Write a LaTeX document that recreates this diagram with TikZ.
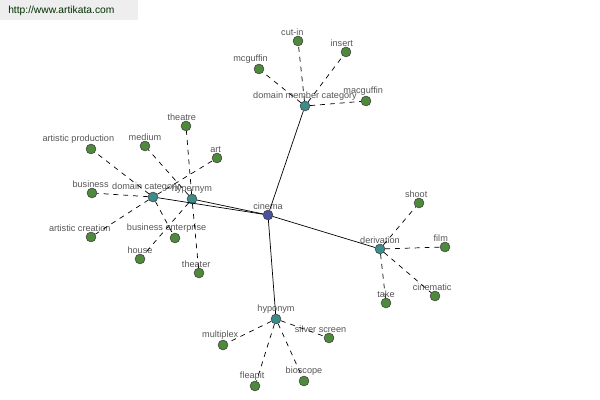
\documentclass[tikz,border=0pt]{standalone}
\usepackage{fontspec}
\setmainfont{Liberation Sans}
\usetikzlibrary{positioning}

\definecolor{colorLeaf}{HTML}{4F8A3C}
\definecolor{colorHub}{HTML}{3C8C8C}
\definecolor{colorRoot}{HTML}{4A529E}
\definecolor{colorText}{HTML}{555555}
\definecolor{colorBand}{HTML}{EEEEEE}
\def\colorLeaf{colorLeaf}
\def\colorHub{colorHub}
\def\colorRoot{colorRoot}
\def\colorText{colorText}

\tikzset{
    dot/.style={circle, draw=black!75, line width=0.4pt, minimum size=7pt, inner sep=0pt,
        label distance=1.2pt},
    leaf/.style={dot, fill=\colorLeaf},
    hub/.style={dot, fill=\colorHub},
    root/.style={dot, fill=\colorRoot},
    lbl/.style={text=\colorText, font=\fontsize{6.5pt}{7pt}\selectfont, inner sep=0pt},
    solidlink/.style={draw=black, line width=0.5pt},
    dashlink/.style={draw=black, line width=0.5pt, dash pattern=on 3.5pt off 3.5pt}
}

\begin{document}
\begin{tikzpicture}[x=0.025cm, y=-0.025cm]

    % Cadre de l'image
    \useasboundingbox (0,0) rectangle (600,400);
    \fill[colorBand] (0,0) rectangle (138,20);
    \node[anchor=west, text=black!70!green!60!black, font=\fontsize{7.3pt}{8pt}\selectfont, inner sep=0pt]
        (site) at (8,11) {http://www.artikata.com};

    % Noeud central
    \node[root, label={[lbl]above:cinema}] (cinema) at (268,215) {};

    % Noeuds intermediaires
    \node[hub, label={[lbl]above:domain member category}] (dmc) at (305,106) {};
    \node[hub, label={[lbl]above:derivation}] (deriv) at (380,249) {};
    \node[hub, label={[lbl]above:hyponym}] (hypo) at (276,319) {};
    \node[hub, label={[lbl, xshift=-5pt]above:domain category}] (dcat) at (153,197) {};
    \node[hub, label={[lbl]above:hypernym}] (hyper) at (192,199) {};

    % Feuilles : domain member category
    \node[leaf, label={[lbl, xshift=-4pt]above:cut-in}] (cutin) at (298,41) {};
    \node[leaf, label={[lbl, xshift=-6pt]above:mcguffin}] (mcguffin) at (259,69) {};
    \node[leaf, label={[lbl, xshift=-3pt]above:insert}] (insert) at (346,52) {};
    \node[leaf, label={[lbl, xshift=-2pt]above:macguffin}] (macguffin) at (366,101) {};

    % Feuilles : domain category / hypernym
    \node[leaf, label={[lbl, xshift=-3pt]above:theatre}] (theatre) at (186,126) {};
    \node[leaf, label={[lbl]above:medium}] (medium) at (145,146) {};
    \node[leaf, label={[lbl, xshift=-9pt]above:artistic production}] (artprod) at (91,149) {};
    \node[leaf, label={[lbl, xshift=-1pt]above:art}] (art) at (217,158) {};
    \node[leaf, label={[lbl, xshift=-1pt]above:business}] (business) at (92,193) {};
    \node[leaf, label={[lbl, xshift=-8pt]above:artistic creation}] (artcrea) at (91,237) {};
    \node[leaf, label={[lbl, xshift=-6pt]above:business enterprise}] (busent) at (175,238) {};
    \node[leaf, label={[lbl]above:house}] (house) at (140,259) {};
    \node[leaf, label={[lbl, xshift=-2pt]above:theater}] (theater) at (199,273) {};

    % Feuilles : derivation
    \node[leaf, label={[lbl, xshift=-2pt]above:shoot}] (shoot) at (419,203) {};
    \node[leaf, label={[lbl, xshift=-3pt]above:film}] (film) at (445,247) {};
    \node[leaf, label={[lbl]above:take}] (take) at (386,303) {};
    \node[leaf, label={[lbl, xshift=-2pt]above:cinematic}] (cinematic) at (435,296) {};

    % Feuilles : hyponym
    \node[leaf, label={[lbl, xshift=-2pt]above:multiplex}] (multiplex) at (223,345) {};
    \node[leaf, label={[lbl, xshift=-6pt]above:silver screen}] (silver) at (329,338) {};
    \node[leaf, label={[lbl, xshift=-2pt]above:fleapit}] (fleapit) at (255,386) {};
    \node[leaf, label={[lbl]above:bioscope}] (bioscope) at (304,381) {};

    % Liens pleins
    \draw[solidlink] (cinema) -- (dmc);
    \draw[solidlink] (cinema) -- (deriv);
    \draw[solidlink] (cinema) -- (hypo);
    \draw[solidlink] (cinema) -- (dcat);
    \draw[solidlink] (cinema) -- (hyper);

    % Liens pointilles
    \draw[dashlink] (dmc) -- (cutin);
    \draw[dashlink] (dmc) -- (mcguffin);
    \draw[dashlink] (dmc) -- (insert);
    \draw[dashlink] (dmc) -- (macguffin);

    \draw[dashlink] (dcat) -- (artprod);
    \draw[dashlink] (dcat) -- (business);
    \draw[dashlink] (dcat) -- (artcrea);
    \draw[dashlink] (dcat) -- (art);
    \draw[dashlink] (dcat) -- (busent);
    \draw[dashlink] (hyper) -- (theatre);
    \draw[dashlink] (hyper) -- (medium);
    \draw[dashlink] (hyper) -- (theater);
    \draw[dashlink] (hyper) -- (house);

    \draw[dashlink] (deriv) -- (shoot);
    \draw[dashlink] (deriv) -- (film);
    \draw[dashlink] (deriv) -- (take);
    \draw[dashlink] (deriv) -- (cinematic);

    \draw[dashlink] (hypo) -- (multiplex);
    \draw[dashlink] (hypo) -- (silver);
    \draw[dashlink] (hypo) -- (fleapit);
    \draw[dashlink] (hypo) -- (bioscope);

\end{tikzpicture}
\end{document}
